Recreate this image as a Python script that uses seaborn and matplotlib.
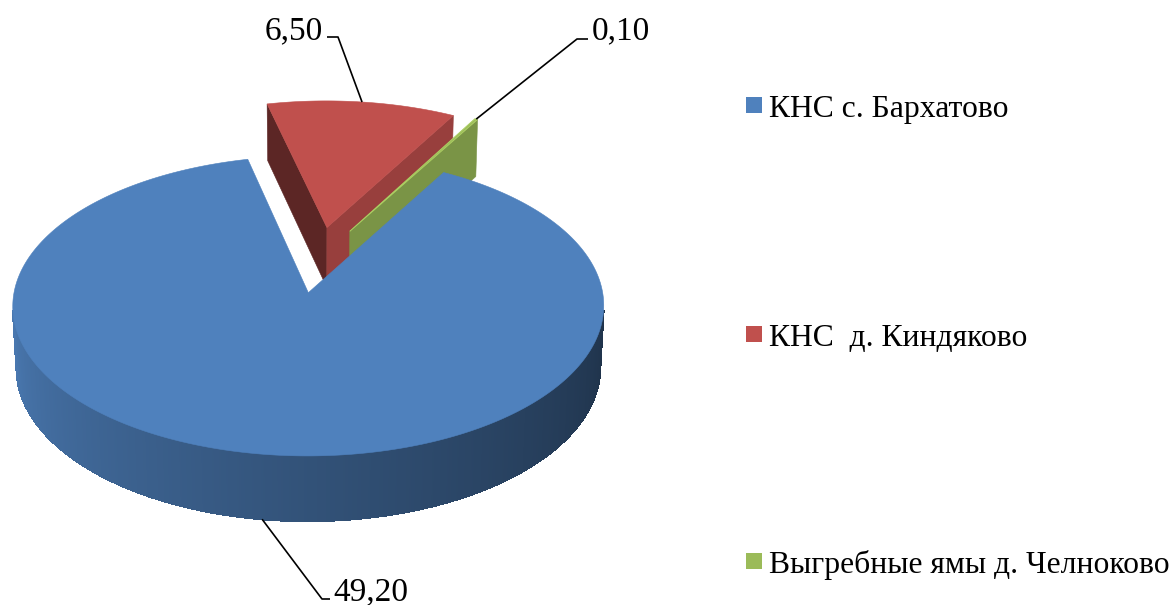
import numpy as np
import matplotlib
matplotlib.use("Agg")
import matplotlib.pyplot as plt
from matplotlib.patches import Polygon, Rectangle
from matplotlib.collections import PolyCollection
import seaborn as sns

# ---- data -------------------------------------------------------------
categories = ["КНС с. Бархатово", "КНС  д. Киндяково", "Выгребные ямы д. Челноково"]
values = [49.20, 6.50, 0.10]
value_labels = ["49,20", "6,50", "0,10"]

# ---- style ------------------------------------------------------------
sns.set_theme(style="white")
SERIF = ["Liberation Serif", "DejaVu Serif"]
plt.rcParams["font.family"] = SERIF
palette = sns.color_palette(["#4F81BD", "#C0504D", "#9BBB59"])

W, H = 1176, 605
fig = plt.figure(figsize=(W / 100, H / 100), dpi=100)
ax = fig.add_axes([0, 0, 1, 1])
ax.set_xlim(0, W)
ax.set_ylim(H, 0)
ax.axis("off")

# ---- 3-D pie camera ---------------------------------------------------
ELEV = np.radians(29.7)     # viewing elevation
DIST = 10.0                 # camera distance in pie radii
FOCAL = 2885.0              # projection scale (pixels)
SX, SY = 318.0, 259.5       # screen position of the pie axis
THICK = 0.245               # pie thickness in radii
EXPLODE = 0.23              # explosion of every slice in radii
START = 29.5                # first slice angle, degrees clockwise from 12 o'clock

CAM = np.array([0.0, -DIST * np.cos(ELEV), DIST * np.sin(ELEV)])


def proj(pts):
    pts = np.atleast_2d(np.asarray(pts, float))
    X, Y, Z = pts[:, 0], pts[:, 1], pts[:, 2]
    zc = DIST + Y * np.cos(ELEV) - Z * np.sin(ELEV)
    sx = SX + FOCAL * X / zc
    sy = SY - FOCAL * (Y * np.sin(ELEV) + Z * np.cos(ELEV)) / zc
    return np.column_stack([sx, sy])


def direction(t):
    t = np.radians(t)
    return np.stack([np.sin(t), np.cos(t), np.zeros_like(t)], axis=-1)


def shade(rgb, f):
    return tuple(np.clip(np.asarray(rgb) * f, 0, 1))


DOWN = np.array([0.0, 0.0, -THICK])

total = float(np.sum(values))
sweeps = [v / total * 360.0 for v in values]
starts = START + np.concatenate([[0.0], np.cumsum(sweeps)[:-1]])

slices = []
for i, (t0, sw) in enumerate(zip(starts, sweeps)):
    t1 = t0 + sw
    tm = 0.5 * (t0 + t1)
    c = EXPLODE * direction(np.array(tm))
    slices.append(dict(i=i, t0=t0, t1=t1, tm=tm, c=c))

# paint far slices first
order = sorted(slices, key=lambda s: -s["c"][1])

for s in order:
    i, t0, t1, tm, c = s["i"], s["t0"], s["t1"], s["tm"], s["c"]
    base = palette[i]
    n = max(int((t1 - t0) * 3), 2)
    ts = np.linspace(t0, t1, n + 1)
    rim = c + direction(ts)
    rim_b = rim + DOWN

    # radial side faces
    faces = [
        (t0, np.array([-np.cos(np.radians(t0)), np.sin(np.radians(t0)), 0.0]), rim[0], rim_b[0], 0.48),
        (t1, np.array([np.cos(np.radians(t1)), -np.sin(np.radians(t1)), 0.0]), rim[-1], rim_b[-1], 0.79),
    ]
    for t, nrm, pt, pb, f in faces:
        mid = c + 0.5 * direction(np.array(t))
        if np.dot(nrm, CAM - mid) > 0:
            quad = proj([c, pt, pb, c + DOWN])
            ax.add_patch(Polygon(quad, closed=True, facecolor=shade(base, f),
                                 edgecolor=shade(base, f), lw=0.4, zorder=2))

    # outer curved wall, shaded by angle
    nrms = direction(ts)
    vis = np.einsum("ij,ij->i", nrms, CAM - rim) > 0
    strips, cols = [], []
    for k in range(n):
        if vis[k] and vis[k + 1]:
            q = proj([rim[k], rim[k + 1], rim_b[k + 1], rim_b[k]])
            strips.append(q)
            phi = (0.5 * (ts[k] + ts[k + 1])) % 360
            u = np.clip((phi - 90) / 180, 0, 1)
            f = 0.38 + 0.57 * u ** 1.15
            cols.append(shade(base, f))
    if strips:
        ax.add_collection(PolyCollection(strips, facecolors=cols, edgecolors=cols,
                                         linewidths=0.8, antialiased=False, zorder=2))

    # top face
    top = proj(np.vstack([c, rim]))
    edge = shade(base, 1.1) if i == 2 else base
    ax.add_patch(Polygon(top, closed=True, facecolor=base, edgecolor=edge,
                         lw=0.7 if i == 2 else 0.4, zorder=2))
    s["rim_mid"] = proj(c + direction(np.array(tm)))[0]
    s["rim_mid_bottom"] = proj(c + direction(np.array(tm)) + DOWN)[0]

# ---- data labels with leader lines -----------------------------------
by_index = {s["i"]: s for s in slices}
label_layout = [
    # (anchor kind, elbow, stub end, text position, ha)
    ("bottom", (322, 599), (330, 599), (333, 600), "left"),
    ("top", (338, 37), (327, 37), (323, 39), "right"),
    ("top", (577, 39), (588, 39), (592, 39), "left"),
]
for i, (kind, elbow, stub, tpos, ha) in enumerate(label_layout):
    s = by_index[i]
    anchor = s["rim_mid_bottom"] if kind == "bottom" else s["rim_mid"]
    xs = [anchor[0], elbow[0], stub[0]]
    ys = [anchor[1], elbow[1], stub[1]]
    ax.plot(xs, ys, color="black", lw=1.2, zorder=3, solid_capstyle="butt")
    ax.text(tpos[0], tpos[1], value_labels[i], ha=ha, va="baseline",
            fontsize=24, color="black", family=SERIF, zorder=4)

# ---- legend ------------------------------------------------------------
legend_baselines = [117, 346, 573]
for i, (name, yb) in enumerate(zip(categories, legend_baselines)):
    ax.add_patch(Rectangle((746, yb - 20), 16, 16, facecolor=palette[i],
                           edgecolor="none", zorder=3))
    ax.text(769, yb, name, ha="left", va="baseline", fontsize=22.8,
            color="black", family=SERIF)

fig.savefig("out.png", dpi=100)
